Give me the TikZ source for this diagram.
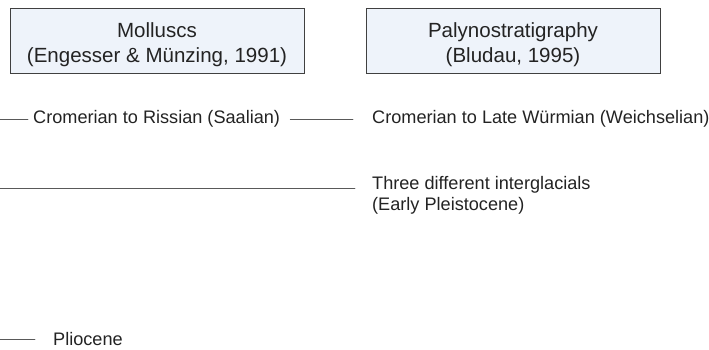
\documentclass[tikz,border=0pt]{standalone}
\usepackage{fontspec}
\setmainfont{Liberation Sans}
\usetikzlibrary{positioning}
\definecolor{boxfill}{RGB}{238,243,250}
\definecolor{txtgray}{RGB}{35,35,35}
\begin{document}
\begin{tikzpicture}[x=1bp,y=-1bp,line cap=round]
% Styles
\tikzstyle{source box}=[draw=black!75, fill=boxfill, minimum width=294bp, minimum height=65bp, align=center, text=txtgray, font=\fontsize{20.6}{25}\selectfont, text height=48bp]
\tikzstyle{age text}=[anchor=west, inner sep=0pt, align=left, text=txtgray, font=\fontsize{18.2}{21}\selectfont]
\tikzstyle{age line}=[draw=black!65, line width=0.9pt]

\useasboundingbox (0,0) rectangle (709,349);

% draw the boxes
\node[source box] (mollusc) at (157,41) {Molluscs\\(Engesser \& Münzing, 1991)};
\node[source box] (palyno) at (513,41) {Palynostratigraphy\\(Bludau, 1995)};

% ages
\node[age text] (crom1) at (33,119) {Cromerian to Rissian (Saalian)};
\node[age text] (crom2) at (372,119) {Cromerian to Late Würmian (Weichselian)};
\node[age text, anchor=north west] (inter) at (372,176) {Three different interglacials\\(Early Pleistocene)};
\node[age text] (plio) at (53,339) {Pliocene};

% lines
\coordinate (crom start) at (0,119);
\coordinate (inter start) at (0,188);
\coordinate (plio start) at (0,339);

\draw[age line, shorten >=5bp] (crom start) -- (crom1.west);
\draw[age line, shorten <=10bp, shorten >=19bp] (crom1.east) -- (crom2.west);
\draw[age line, shorten >=17bp] (inter start) -- (inter.west |- inter start);
\draw[age line, shorten >=18bp] (plio start) -- (plio.west);

\end{tikzpicture}
\end{document}
